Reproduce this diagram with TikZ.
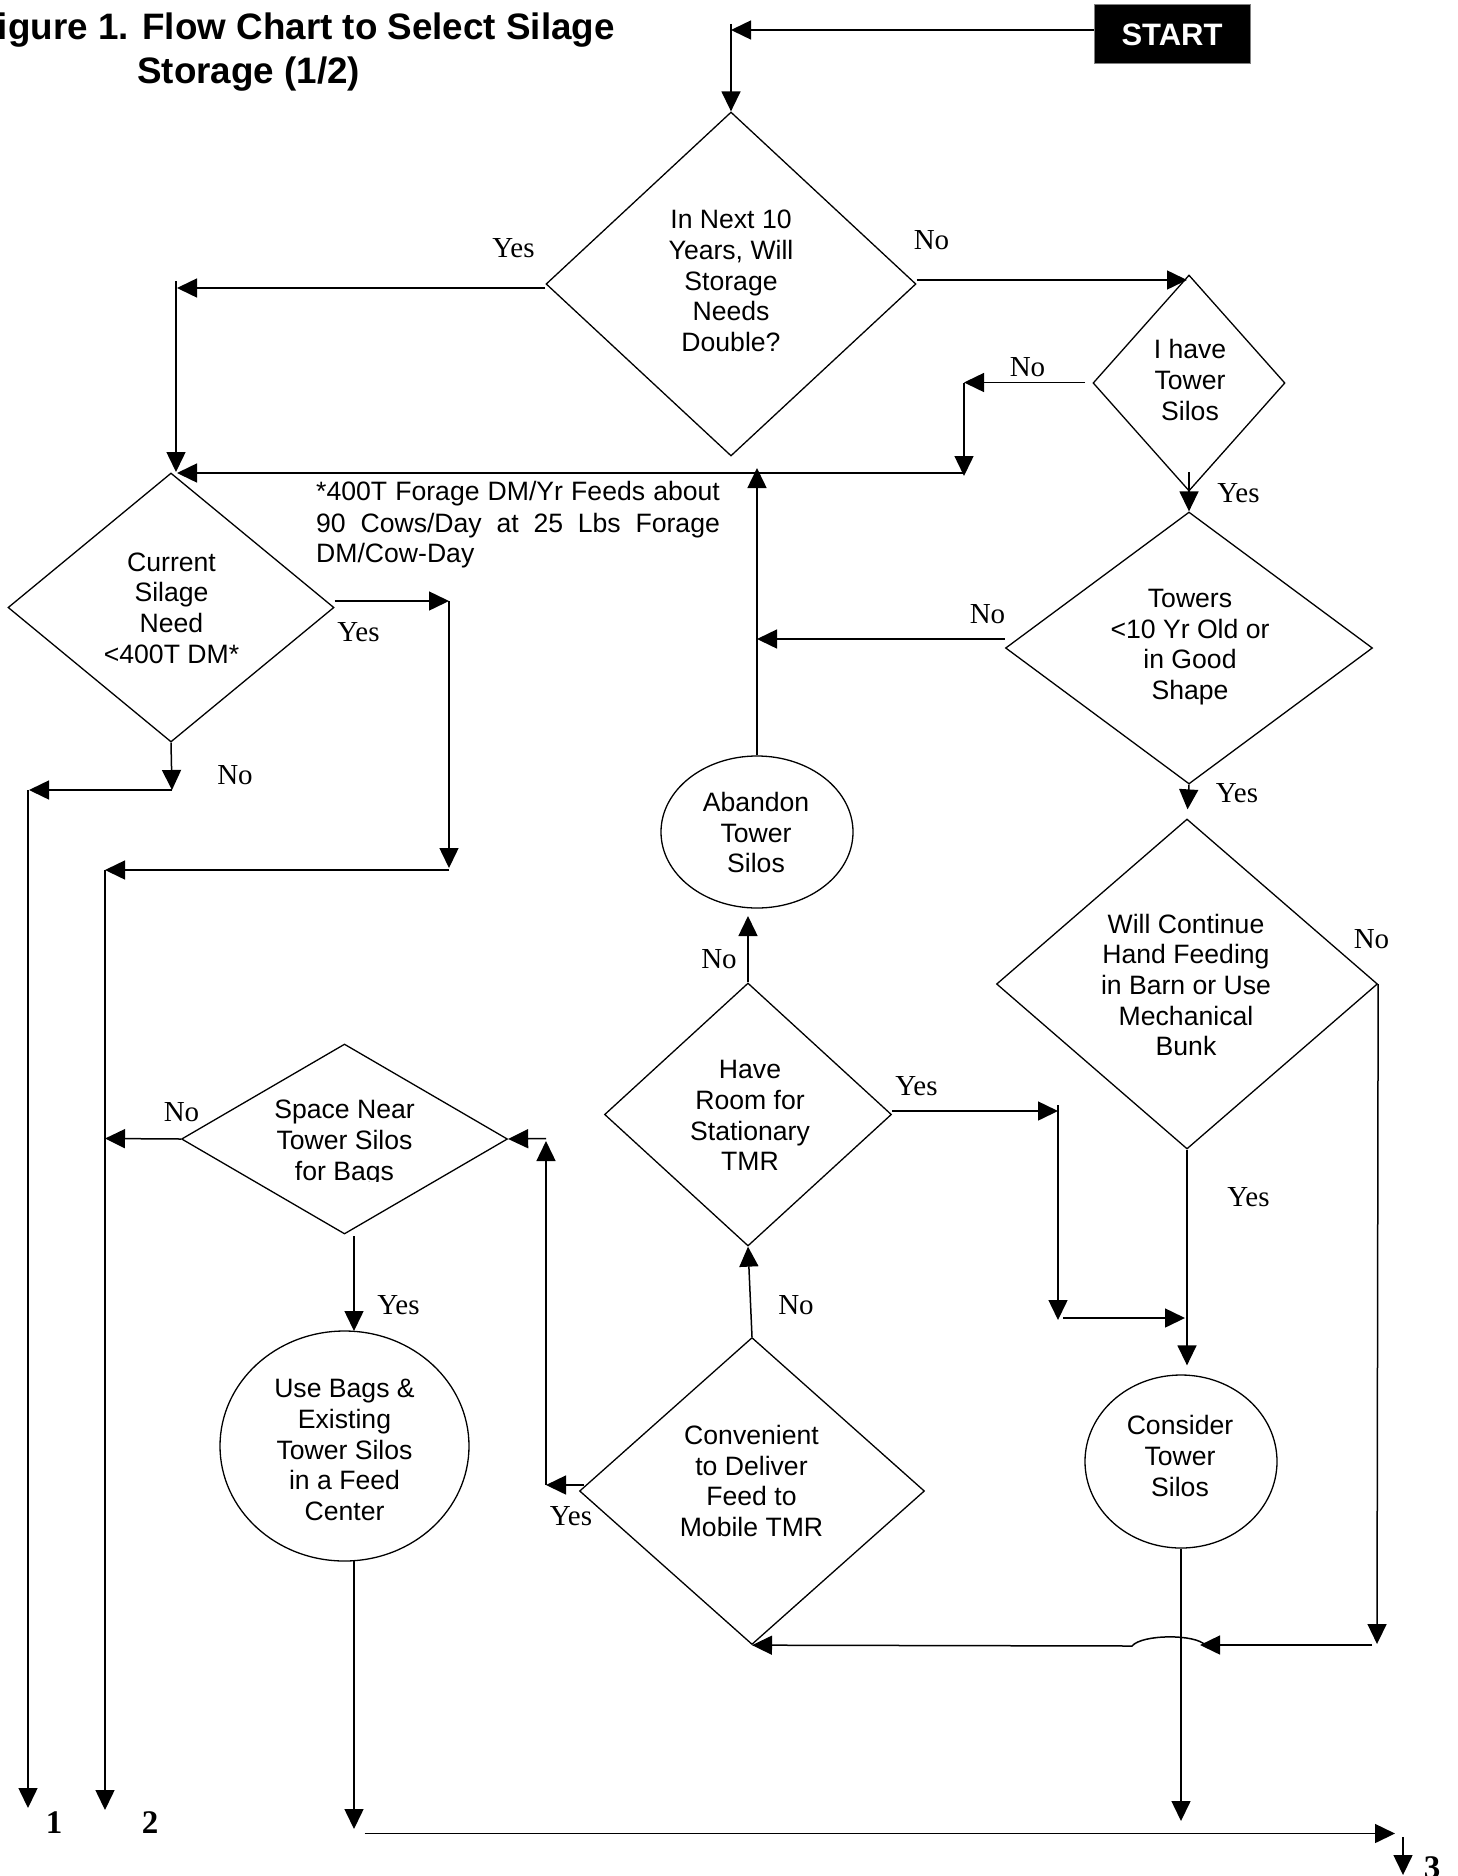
\documentclass[tikz,border=0pt]{standalone}
\usepackage{fontspec}
\setmainfont{Liberation Sans}
\newfontfamily\timesf{Liberation Serif}
\usetikzlibrary{shapes.geometric,arrows.meta}
\begin{document}
\begin{tikzpicture}[x=1pt,y=-1pt,
  dia/.style={diamond,draw,inner sep=0pt,line width=1.3pt},
  oval/.style={ellipse,draw,inner sep=0pt,line width=1.3pt},
  txt/.style={align=center,inner sep=0pt,font=\fontsize{26.6}{30.6}\selectfont},
  fnt/.style={anchor=base west,inner sep=0pt,font=\fontsize{26.6}{30.6}\selectfont},
  lbl/.style={inner sep=0pt,anchor=base,font=\timesf\fontsize{29}{32}\selectfont},
  num/.style={inner sep=0pt,anchor=base,font=\timesf\bfseries\fontsize{33}{36}\selectfont},
  ttl/.style={inner sep=0pt,font=\bfseries\fontsize{36.8}{40}\selectfont},
  arr/.style={line width=1.5pt,-{Triangle[length=20pt,width=19pt]}}]
\useasboundingbox (0,0) rectangle (1457,1876);

% title
\node[ttl,anchor=base east] (title1) at (615,40) {Figure 1. Flow Chart to Select Silage};
\node[ttl,anchor=base west] (title2) at (137,84) {Storage (1/2)};

% start
\node[fill=black,draw=black!50,line width=1pt,minimum width=156pt,minimum height=59pt,inner sep=0pt,text=white,font=\bfseries\fontsize{31}{34}\selectfont] (start) at (1172,34.5) {START};

% decisions
\node[dia,minimum width=370pt,minimum height=344pt] (d1) at (731,284) {};
\node[txt] (d1t) at (731,281) {In Next 10\\Years, Will\\Storage\\Needs\\Double?};
\node[dia,minimum width=192pt,minimum height=216pt] (d3) at (1189,383) {};
\node[txt] (d3t) at (1190,380) {I have\\Tower\\Silos};
\node[dia,minimum width=367pt,minimum height=272pt] (d4) at (1189,648) {};
\node[txt] (d4t) at (1190,647) {Towers\\<10 Yr Old or\\in Good\\Shape};
\node[dia,minimum width=326pt,minimum height=269pt] (d2) at (171,607.5) {};
\node[txt] (d2t) at (171.5,608) {Current\\Silage\\Need\\<400T DM*};
\node[dia,minimum width=381pt,minimum height=330pt] (d5) at (1187,984) {};
\node[txt] (d5t) at (1186,985) {Will Continue\\Hand Feeding\\in Barn or Use\\Mechanical\\Bunk};
\node[dia,minimum width=287pt,minimum height=263pt] (d6) at (748,1114.5) {};
\node[txt] (d6t) at (750,1115.6) {Have\\Room for\\Stationary\\TMR};
\node[dia,minimum width=326pt,minimum height=190pt] (d7) at (344.5,1139) {};
\begin{scope}
\clip (240,1080) rectangle (450,1181.5);
\node[txt] (d7t) at (344.5,1143) {Space Near\\Tower Silos\\for Bags};
\end{scope}
\node[dia,minimum width=345pt,minimum height=307pt] (d8) at (752,1491) {};
\node[txt] (d8t) at (751.5,1481) {Convenient\\to Deliver\\Feed to\\Mobile TMR};

% terminals
\node[oval,minimum width=192pt,minimum height=152pt] (e1) at (757,832) {};
\node[txt] (e1t) at (756,832.6) {Abandon\\Tower\\Silos};
\node[oval,minimum width=249pt,minimum height=230pt] (e2) at (344.5,1446) {};
\node[txt] (e2t) at (344.5,1450) {Use Bags \&\\Existing\\Tower Silos\\in a Feed\\Center};
\node[oval,minimum width=192pt,minimum height=173pt] (e3) at (1181,1461.5) {};
\node[txt] (e3t) at (1180,1456) {Consider\\Tower\\Silos};

% footnote
\node[fnt] (fn1) at (316,500) {\makebox[403.7pt][s]{*400T Forage DM/Yr Feeds about}};
\node[fnt] (fn2) at (316,532) {\makebox[403.7pt][s]{90 Cows/Day at 25 Lbs Forage}};
\node[fnt] (fn3) at (316,562.5) {DM/Cow-Day};

% coordinates
\coordinate (c1) at (731,30);
\coordinate (c1t) at (731,24);
\coordinate (c2) at (177,288);
\coordinate (c2t) at (176,281);
\coordinate (c3) at (176,472);
\coordinate (c4) at (964,473);
\coordinate (c5) at (177,473);
\coordinate (c6) at (1187,280);
\coordinate (c7) at (964,382.5);
\coordinate (c7s) at (1085,382.5);
\coordinate (c8) at (964,476);
\coordinate (c9) at (1189,472);
\coordinate (c10) at (757,639);
\coordinate (c11) at (757,468);
\coordinate (c12) at (1377,1644);
\coordinate (c13) at (1372,1645);
\coordinate (c14) at (1200,1645);
\coordinate (c15) at (1205,1645);
\coordinate (c16) at (1132,1646);
\coordinate (c17) at (1058,1111);
\coordinate (c18) at (1058,1105);
\coordinate (c19) at (1058,1320);
\coordinate (c20) at (1063,1318);
\coordinate (c21) at (1185,1318);
\coordinate (c22) at (748,916);
\coordinate (c23) at (584,1485);
\coordinate (c24) at (546,1485);
\coordinate (c25) at (546,1141);
\coordinate (c26) at (546,1138.5);
\coordinate (c27) at (105,1138.5);
\coordinate (c28) at (354,1236);
\coordinate (c29) at (354,1331);
\coordinate (c30) at (354,1561);
\coordinate (c31) at (354,1829);
\coordinate (c32) at (364.5,1833.5);
\coordinate (c33) at (1395,1833.5);
\coordinate (c34) at (1181,1821);
\coordinate (c35) at (1403,1837);
\coordinate (c36) at (1403,1875);
\coordinate (c37) at (449,601);
\coordinate (c38) at (449,868);
\coordinate (c39) at (449,870);
\coordinate (c40) at (105,870);
\coordinate (c41) at (105,1810);
\coordinate (c42) at (172,790);
\coordinate (c43) at (29,790);
\coordinate (c44) at (28,790);
\coordinate (c45) at (28,1808);

% connectors
\draw[arr] (start.west |- c1) -- (c1);
\draw[arr] (c1t) -- (d1.north);
\draw[arr] (d1.west |- c2) -- (c2);
\draw[arr] (c2t) -- (c3);
\draw[arr] (c4) -- (c5);
\draw[arr] (d1.east |- c6) -- (c6);
\draw[arr] (c7s) -- (c7);
\draw[arr] (c7) -- (c8);
\draw[arr] (c9) -- (d4.north);
\draw[arr] (d4.west |- c10) -- (c10);
\draw[arr] (e1.north) -- (c11);
\draw[arr,shorten >=9pt] (d4.south) -- (d5.north);
\draw[arr] (d5.east) -- (c12);
\draw[arr] (c13) -- (c14);
\draw[arr] (c15) .. controls (1196,1634) and (1142,1634) .. (c16) -- (d8.south);
\draw[arr] (d6.east |- c17) -- (c17);
\draw[arr] (c18) -- (c19);
\draw[arr] (c20) -- (c21);
\draw[arr] (d6.north) -- (c22);
\draw[arr] (d8.north) -- (d6.south);
\draw[arr] (c23) -- (c24);
\draw[arr] (c24) -- (c25);
\draw[arr] (c26) -- (d7.east);
\draw[arr] (d7.west) -- (c27);
\draw[arr] (c28) -- (c29);
\draw[arr] (c30) -- (c31);
\draw[arr] (c32) -- (c33);
\draw[arr] (e3.south) -- (c34);
\draw[arr] (c35) -- (c36);
\draw[arr] (d2.east |- c37) -- (c37);
\draw[arr] (c37) -- (c38);
\draw[arr] (c39) -- (c40);
\draw[arr] (c40) -- (c41);
\draw[arr] (d2.south) -- (c42);
\draw[arr] (c42) -- (c43);
\draw[arr] (c44) -- (c45);
\draw[arr,shorten >=9pt] (d5.south) -- (d5.south |- e3.north);

% labels
\node[lbl] (l1) at (513.5,257) {Yes};
\node[lbl] (l2) at (931.5,249) {No};
\node[lbl] (l3) at (1027.5,376) {No};
\node[lbl] (l4) at (1238.5,502) {Yes};
\node[lbl] (l5) at (987.5,623) {No};
\node[lbl] (l6) at (1237,802) {Yes};
\node[lbl] (l7) at (1371.5,948) {No};
\node[lbl] (l8) at (1248.5,1206) {Yes};
\node[lbl] (l9) at (358.5,641) {Yes};
\node[lbl] (l10) at (235,784) {No};
\node[lbl] (l11) at (181.5,1121) {No};
\node[lbl] (l12) at (398.5,1314) {Yes};
\node[lbl] (l13) at (571,1525) {Yes};
\node[lbl] (l14) at (796,1314) {No};
\node[lbl] (l15) at (719,968) {No};
\node[lbl] (l16) at (916.5,1095) {Yes};
\node[num] (n1) at (54,1833) {1};
\node[num] (n2) at (150,1833) {2};
\node[num] (n3) at (1432,1878) {3};
\end{tikzpicture}
\end{document}
